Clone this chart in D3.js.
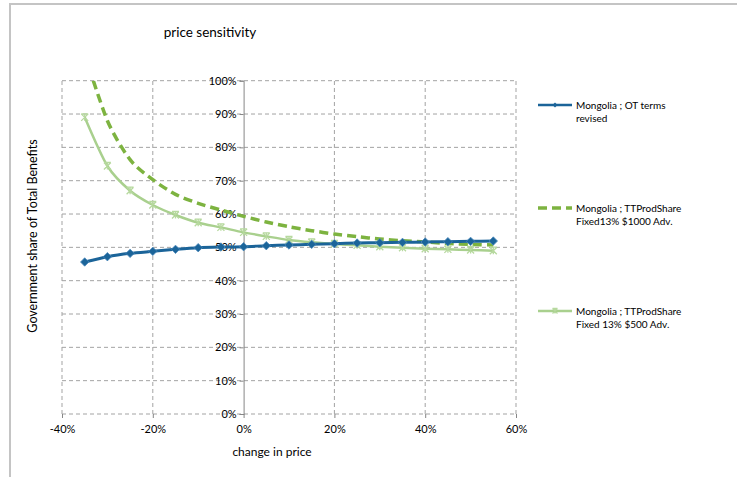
<!DOCTYPE html>
<html>
<head>
<meta charset="utf-8">
<script src="https://cdn.jsdelivr.net/npm/d3@7"></script>
<style>
  html, body { margin: 0; padding: 0; background: #fff; }
  svg { display: block; }
  text { font-family: Lato, "Open Sans", sans-serif; fill: #000; }
</style>
</head>
<body>
<svg id="chart" width="737" height="477"></svg>
<script>
// Price change steps (fraction of base price)
const priceChange = [-0.35, -0.30, -0.25, -0.20, -0.15, -0.10, -0.05, 0.00, 0.05, 0.10,
                     0.15, 0.20, 0.25, 0.30, 0.35, 0.40, 0.45, 0.50, 0.55];

// Government share of total benefits for each scenario
const otTermsRevised = [0.456, 0.472, 0.482, 0.488, 0.494, 0.499, 0.501, 0.502, 0.505, 0.507,
                        0.509, 0.511, 0.513, 0.514, 0.515, 0.516, 0.517, 0.518, 0.519];
const prodShare1000 = [1.08, 0.880, 0.763, 0.703, 0.659, 0.632, 0.612, 0.593, 0.576, 0.562,
                       0.550, 0.540, 0.532, 0.525, 0.520, 0.516, 0.512, 0.509, 0.507];
const prodShare500 = [0.890, 0.744, 0.670, 0.627, 0.597, 0.574, 0.560, 0.545, 0.533, 0.522,
                      0.515, 0.510, 0.506, 0.502, 0.499, 0.496, 0.494, 0.492, 0.490];

const seriesNames = [
  ["Mongolia ; OT terms", "revised"],
  ["Mongolia ; TTProdShare", "Fixed13% $1000 Adv."],
  ["Mongolia ; TTProdShare", "Fixed 13% $500 Adv."]
];

const xTicks = [-0.4, -0.2, 0, 0.2, 0.4, 0.6];
const yTicks = [0, 0.1, 0.2, 0.3, 0.4, 0.5, 0.6, 0.7, 0.8, 0.9, 1.0];

const svg = d3.select("#chart");
// Percent labels with a plain hyphen for negatives
const pct = v => d3.format(".0%")(v).replace("\u2212", "-");

// Outer chart frame (top and left edges visible)
svg.append("path")
  .attr("d", "M10,477 L10,4 L737,4")
  .attr("fill", "none").attr("stroke", "#c4c4c4").attr("stroke-width", 2);

const x = d3.scaleLinear().domain([-0.4, 0.6]).range([62, 516]);
const y = d3.scaleLinear().domain([0, 1]).range([414, 80.7]);

const grid = svg.append("g").attr("stroke", "#a3a3a3").attr("stroke-dasharray", "4,3").attr("stroke-width", 1);
yTicks.forEach(t => {
  grid.append("line").attr("x1", x(-0.4)).attr("x2", x(0.6)).attr("y1", y(t)).attr("y2", y(t));
});
xTicks.filter(t => t !== 0).forEach(t => {
  grid.append("line").attr("x1", x(t)).attr("x2", x(t)).attr("y1", y(0)).attr("y2", y(1));
});

// Y axis crosses at zero price change
const yAxis = d3.axisLeft(y).tickValues(yTicks).tickFormat(pct).tickSize(4).tickPadding(3);
const gy = svg.append("g").attr("transform", `translate(${x(0)},0)`).call(yAxis);
gy.select(".domain").attr("stroke", "#868686");
gy.selectAll(".tick line").attr("stroke", "#868686");
gy.selectAll("text").attr("font-size", 11).attr("font-family", "Lato, sans-serif").attr("fill", "#000");

// X axis at the bottom: tick marks only, the baseline is the 0% gridline
const xAxis = d3.axisBottom(x).tickValues(xTicks).tickFormat(pct).tickSize(4).tickPadding(7);
const gx = svg.append("g").attr("transform", `translate(0,${y(0)})`).call(xAxis);
gx.select(".domain").remove();
gx.selectAll(".tick line").attr("stroke", "#868686");
gx.selectAll("text").attr("font-size", 11).attr("font-family", "Lato, sans-serif").attr("fill", "#000");

// Clip series to the plot area
svg.append("clipPath").attr("id", "plotClip")
  .append("rect").attr("x", x(-0.4)).attr("y", y(1)).attr("width", x(0.6) - x(-0.4)).attr("height", y(0) - y(1));

const line = d3.line().curve(d3.curveCardinal.tension(0.2))
  .x((d, i) => x(priceChange[i])).y(d => y(d));

const plot = svg.append("g").attr("clip-path", "url(#plotClip)");

const blue = "#1b6499", darkGreen = "#7db340", lightGreen = "#a9d08e";

plot.append("path").datum(prodShare1000).attr("d", line)
  .attr("fill", "none").attr("stroke", darkGreen).attr("stroke-width", 3.5).attr("stroke-dasharray", "9,5");

plot.append("path").datum(prodShare500).attr("d", line)
  .attr("fill", "none").attr("stroke", lightGreen).attr("stroke-width", 2.5);

function starMarker(g, cx, cy, r, color) {
  g.append("path")
    .attr("d", `M${cx - r},${cy - r}L${cx + r},${cy + r}M${cx - r},${cy + r}L${cx + r},${cy - r}M${cx - r},${cy - r}L${cx + r},${cy - r}M${cx},${cy - r}L${cx},${cy + r}`)
    .attr("stroke", color).attr("stroke-width", 1.3).attr("fill", "none");
}
prodShare500.forEach((v, i) => starMarker(plot, x(priceChange[i]), y(v), 3.5, "#b7d99f"));

plot.append("path").datum(otTermsRevised).attr("d", line)
  .attr("fill", "none").attr("stroke", blue).attr("stroke-width", 3);

function diamondPath(r) { return `M0,${-r}L${r},0L0,${r}L${-r},0Z`; }
plot.selectAll(".blueMark").data(otTermsRevised).enter().append("path")
  .attr("d", diamondPath(4.2))
  .attr("transform", (d, i) => `translate(${x(priceChange[i])},${y(d)})`)
  .attr("fill", blue).attr("stroke", "#4a88bb").attr("stroke-width", 0.8);

// Title and axis titles
svg.append("text").attr("x", 210).attr("y", 37).attr("text-anchor", "middle")
  .attr("font-size", 13.5).text("price sensitivity");
svg.append("text").attr("x", 272).attr("y", 456).attr("text-anchor", "middle")
  .attr("font-size", 12).text("change in price");
svg.append("text").attr("transform", "translate(37,236) rotate(-90)").attr("text-anchor", "middle")
  .attr("font-size", 12.5).text("Government share of Total Benefits");

// Legend
const legendY = [105, 208, 311];
const lg = svg.append("g");
// OT terms revised
lg.append("line").attr("x1", 538).attr("x2", 572).attr("y1", legendY[0]).attr("y2", legendY[0])
  .attr("stroke", blue).attr("stroke-width", 2.5);
lg.append("path").attr("d", diamondPath(2.5))
  .attr("transform", `translate(555,${legendY[0]})`).attr("fill", blue);
// $1000 Adv.
lg.append("line").attr("x1", 538).attr("x2", 572).attr("y1", legendY[1]).attr("y2", legendY[1])
  .attr("stroke", darkGreen).attr("stroke-width", 3.5).attr("stroke-dasharray", "9,5");
// $500 Adv.
lg.append("line").attr("x1", 538).attr("x2", 572).attr("y1", legendY[2]).attr("y2", legendY[2])
  .attr("stroke", lightGreen).attr("stroke-width", 2.5);
starMarker(lg, 555, legendY[2], 2.5, "#b7d99f");

seriesNames.forEach((lines, k) => {
  const t = lg.append("text").attr("font-size", 10);
  lines.forEach((s, j) => {
    t.append("tspan").attr("x", 576).attr("y", legendY[k] + 3.5 + j * 13.5).text(s);
  });
});
</script>
</body>
</html>
